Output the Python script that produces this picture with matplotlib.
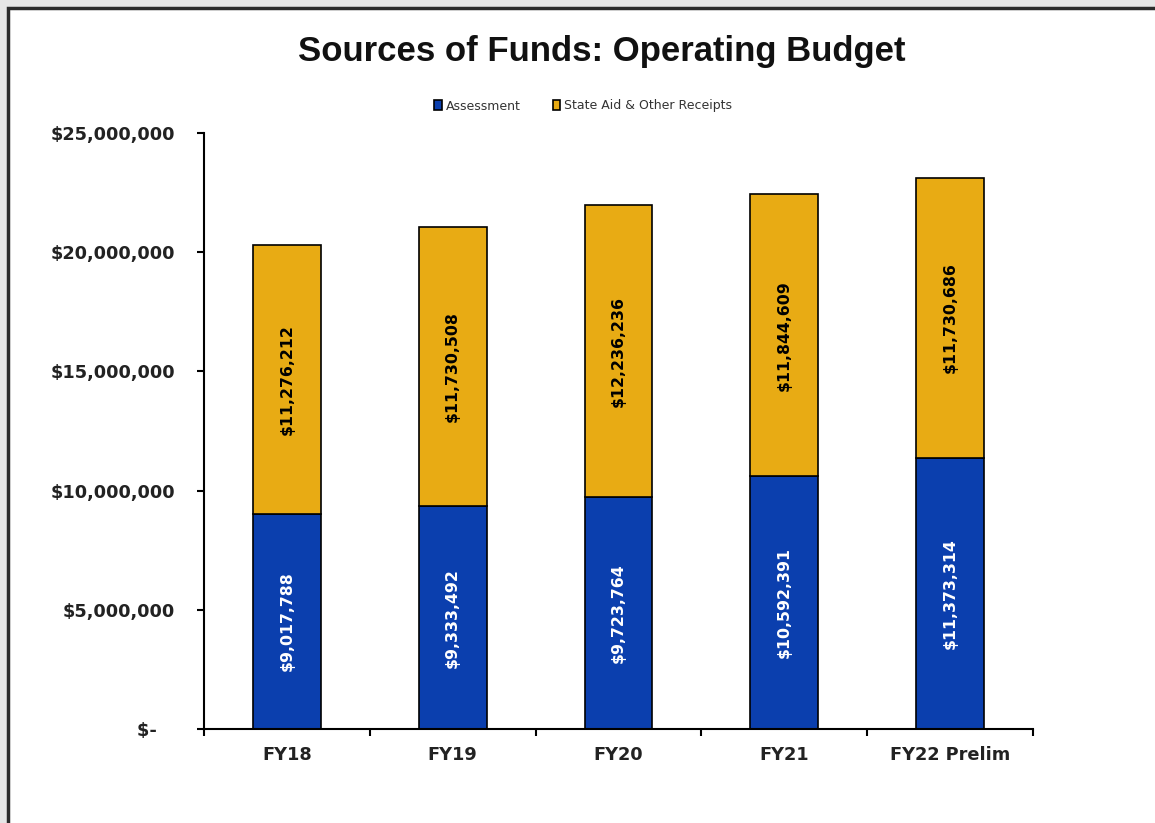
import matplotlib
matplotlib.use("Agg")
import matplotlib.pyplot as plt
from matplotlib.patches import Rectangle
from matplotlib.ticker import FuncFormatter, FixedLocator

categories = ["FY18", "FY19", "FY20", "FY21", "FY22 Prelim"]
assessment = [9017788, 9333492, 9723764, 10592391, 11373314]
state_aid = [11276212, 11730508, 12236236, 11844609, 11730686]

BLUE = "#0b3fae"
GOLD = "#e8ab14"
TICK_FONT = "DejaVu Sans"

fig = plt.figure(figsize=(11.55, 8.23), dpi=100)
fig.patch.set_facecolor("#e6e6e6")

# white chart panel with a dark frame on the top and left
panel = Rectangle((8 / 1155, -0.05), 1.2, 1 - 8 / 823 + 0.05,
                  transform=fig.transFigure, facecolor="white",
                  edgecolor="#2b2b2b", linewidth=2.5, zorder=-10)
fig.patches.append(panel)

ax = fig.add_axes([204 / 1155, 1 - 729 / 823, (1033 - 204) / 1155, (729 - 133) / 823])
ax.set_facecolor("none")

x = list(range(len(categories)))
width = 0.41
b1 = ax.bar(x, assessment, width, color=BLUE, edgecolor="black", linewidth=1.2,
            label="Assessment", zorder=2)
b2 = ax.bar(x, state_aid, width, bottom=assessment, color=GOLD, edgecolor="black",
            linewidth=1.2, label="State Aid & Other Receipts", zorder=2)

for i in x:
    a = assessment[i]
    s = state_aid[i]
    ax.text(i, a / 2, f"${a:,}", rotation=90, ha="center", va="center",
            color="white", fontsize=11.3, fontweight="bold", family=TICK_FONT, zorder=3)
    ax.text(i, a + s / 2, f"${s:,}", rotation=90, ha="center", va="center",
            color="black", fontsize=11.3, fontweight="bold", family=TICK_FONT, zorder=3)

ax.set_xlim(-0.5, len(categories) - 0.5)
ax.set_ylim(0, 25_000_000)
ax.set_yticks([0, 5_000_000, 10_000_000, 15_000_000, 20_000_000, 25_000_000])
ax.yaxis.set_major_formatter(FuncFormatter(lambda v, p: "$-   " if v == 0 else f"${v:,.0f}"))

ax.set_xticks(x)
ax.set_xticklabels(categories)
ax.xaxis.set_minor_locator(FixedLocator([i - 0.5 for i in range(len(categories) + 1)]))
ax.tick_params(axis="x", which="major", length=0, pad=12)
ax.tick_params(axis="x", which="minor", length=5, width=1.5, direction="out")
ax.tick_params(axis="y", length=5, width=1.5, direction="out", pad=16)

for lbl in ax.get_xticklabels() + ax.get_yticklabels():
    lbl.set_fontfamily(TICK_FONT)
    lbl.set_fontweight("bold")
    lbl.set_fontsize(12.8)
    lbl.set_color("#222222")

for side in ("top", "right"):
    ax.spines[side].set_visible(False)
for side in ("left", "bottom"):
    ax.spines[side].set_linewidth(1.5)

fig.text(0.521, 1 - 52 / 823, "Sources of Funds: Operating Budget", ha="center", va="center",
         fontsize=25, fontweight="bold", family="Liberation Sans", color="#111111")

fig.legend(handles=[b1, b2], loc="center", bbox_to_anchor=(0.505, 1 - 106 / 823), ncol=2,
           frameon=False, prop={"family": "DejaVu Sans", "size": 9},
           labelcolor="#333333",
           handlelength=0.6, handleheight=0.9, handletextpad=0.3, columnspacing=2.6)

fig.savefig("out.png", dpi=100, facecolor=fig.get_facecolor())
